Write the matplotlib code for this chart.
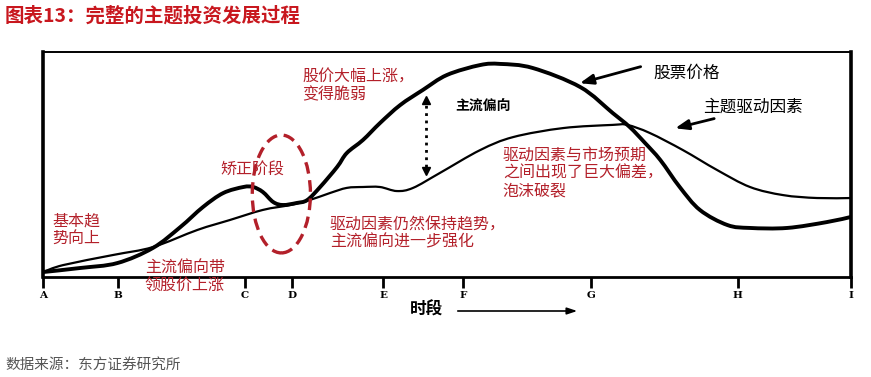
import matplotlib.pyplot as plt
from matplotlib.patches import Ellipse, PathPatch
from matplotlib.path import Path

plt.rcParams['font.family'] = ['Noto Sans CJK SC', 'DejaVu Sans']

RED = '#b3202a'

# 时间轴 0-100, 水平 0-100
price_t = [0, 4.6, 9.2, 13.6, 17.0, 19.8, 22.3, 24.8, 26.0, 27.2, 28.5, 29.7, 31.4,
           32.7, 34.3, 36.4, 37.6, 39.6, 41.7, 44.2, 47.0, 50.0, 54.1, 56.6, 60.6,
           66.5, 70.5, 72.6, 74.5, 76.4, 78.8, 81.3, 84.7, 87.5, 92.1, 97.0, 100]
price_v = [2.2, 4.0, 6.2, 12.9, 22.2, 31.1, 37.3, 40.0, 40.0, 37.8, 33.3, 32.0, 32.9,
           34.2, 40.0, 48.9, 55.1, 60.9, 68.4, 76.4, 83.1, 89.8, 94.2, 94.7, 92.9,
           84.4, 72.9, 66.7, 59.6, 52.0, 40.0, 29.8, 23.1, 21.8, 21.8, 24.4, 26.7]

theme_t = [0, 2.5, 8.7, 13.6, 19.1, 23.1, 27.2, 30.6, 33.0, 35.5, 37.6, 39.6, 41.7,
           43.8, 45.8, 49.1, 54.1, 58.2, 64.4, 70.5, 72.3, 75.1, 79.2, 83.4, 87.5,
           91.6, 95.8, 100]
theme_v = [2.2, 5.3, 9.8, 13.3, 20.9, 25.3, 29.8, 32.0, 34.2, 37.3, 39.6, 40.0, 40.0,
           38.2, 39.6, 46.2, 56.4, 62.2, 66.2, 67.6, 67.6, 64.0, 56.4, 47.6, 40.0,
           36.4, 35.1, 35.1]

stage_t = [0, 9.3, 25.0, 30.8, 42.1, 52.0, 67.8, 86.0, 100]
stage_labels = ['A', 'B', 'C', 'D', 'E', 'F', 'G', 'H', 'I']


def smooth_path(xs, ys):
    """用 Catmull-Rom 样条把读出的点连成光滑曲线（贝塞尔路径）"""
    pts = list(zip(xs, ys))
    verts = [pts[0]]
    codes = [Path.MOVETO]
    for i in range(len(pts) - 1):
        p0 = pts[i - 1] if i > 0 else pts[i]
        p1, p2 = pts[i], pts[i + 1]
        p3 = pts[i + 2] if i + 2 < len(pts) else p2
        c1 = (p1[0] + (p2[0] - p0[0]) / 6, p1[1] + (p2[1] - p0[1]) / 6)
        c2 = (p2[0] - (p3[0] - p1[0]) / 6, p2[1] - (p3[1] - p1[1]) / 6)
        verts += [c1, c2, p2]
        codes += [Path.CURVE4] * 3
    return Path(verts, codes)


fig = plt.figure(figsize=(8.71, 3.77), dpi=100)
ax = fig.add_axes([43 / 871, 100 / 377, 808 / 871, 225 / 377])
ax.set_xlim(0, 100)
ax.set_ylim(0, 100)

ax.add_patch(PathPatch(smooth_path(theme_t, theme_v), fill=False, ec='black', lw=1.6,
                       capstyle='round'))
ax.add_patch(PathPatch(smooth_path(price_t, price_v), fill=False, ec='black', lw=2.8,
                       capstyle='round', joinstyle='round'))

# 边框和刻度
for side, lw in [('left', 2.6), ('right', 2.6), ('top', 1.4), ('bottom', 2.0)]:
    ax.spines[side].set_linewidth(lw)
ax.set_yticks([])
ax.set_xticks(stage_t)
ax.set_xticklabels(stage_labels, fontfamily='DejaVu Serif', fontweight='bold', fontsize=7.5)
ax.tick_params(axis='x', direction='out', length=8, width=2, pad=2)

# 矫正阶段的虚线椭圆
ax.add_patch(Ellipse((29.5, 36.9), 7.2, 52.4, fill=False, ec=RED, lw=2.4,
                     ls=(0, (3.5, 2)), clip_on=False, zorder=5))

# 主流偏向的虚线双箭头
ax.plot([47.4, 47.4], [49.0, 76.5], color='black', ls=':', lw=2)
ax.plot([47.4], [78.5], marker='^', color='black', ms=6)
ax.plot([47.4], [47.0], marker='v', color='black', ms=6)
ax.text(51.0, 75.6, '主流偏向', fontsize=10, fontweight='bold', va='center')

# 图例箭头
ax.annotate('', xy=(66.1, 85.8), xytext=(74.3, 93.8),
            arrowprops=dict(arrowstyle='-|>,head_length=0.8,head_width=0.3',
                            color='black', lw=2))
ax.text(75.5, 90.7, '股票价格', fontsize=12, va='center')
ax.annotate('', xy=(77.9, 65.8), xytext=(83.4, 70.7),
            arrowprops=dict(arrowstyle='-|>,head_length=0.8,head_width=0.3',
                            color='black', lw=2))
ax.text(81.7, 75.6, '主题驱动因素', fontsize=12, va='center')

# 红色说明文字
notes = [
    (1.2, 20.9, '基本趋\n势向上'),
    (12.6, -0.2, '主流偏向带\n领股价上涨'),
    (21.9, 47.6, '矫正阶段'),
    (32.1, 84.9, '股价大幅上涨，\n变得脆弱'),
    (35.5, 19.3, '驱动因素仍然保持趋势，\n主流偏向进一步强化'),
    (56.9, 46.2, '驱动因素与市场预期\n之间出现了巨大偏差，\n泡沫破裂'),
]
for x, y, s in notes:
    ax.text(x, y, s, color=RED, fontsize=11.5, va='center', ha='left',
            linespacing=1.05, clip_on=False, zorder=6)

# 时段箭头
fig.text(410 / 871, 1 - 310 / 377, '时段', fontsize=12, fontweight='bold', va='center')
ax.annotate('', xy=(580 / 871, 1 - 311 / 377), xytext=(455 / 871, 1 - 311 / 377),
            xycoords='figure fraction', textcoords='figure fraction',
            arrowprops=dict(arrowstyle='-|>,head_length=0.6,head_width=0.2',
                            color='black', lw=1.2))

fig.text(5 / 871, 1 - 16 / 377, '图表13：完整的主题投资发展过程', color='#c8171e',
         fontsize=14, fontweight='bold', va='center')
fig.text(5 / 871, 1 - 365 / 377, '数据来源：东方证券研究所', color='#555555',
         fontsize=10.5, va='center')

fig.savefig('out.png', dpi=100)
